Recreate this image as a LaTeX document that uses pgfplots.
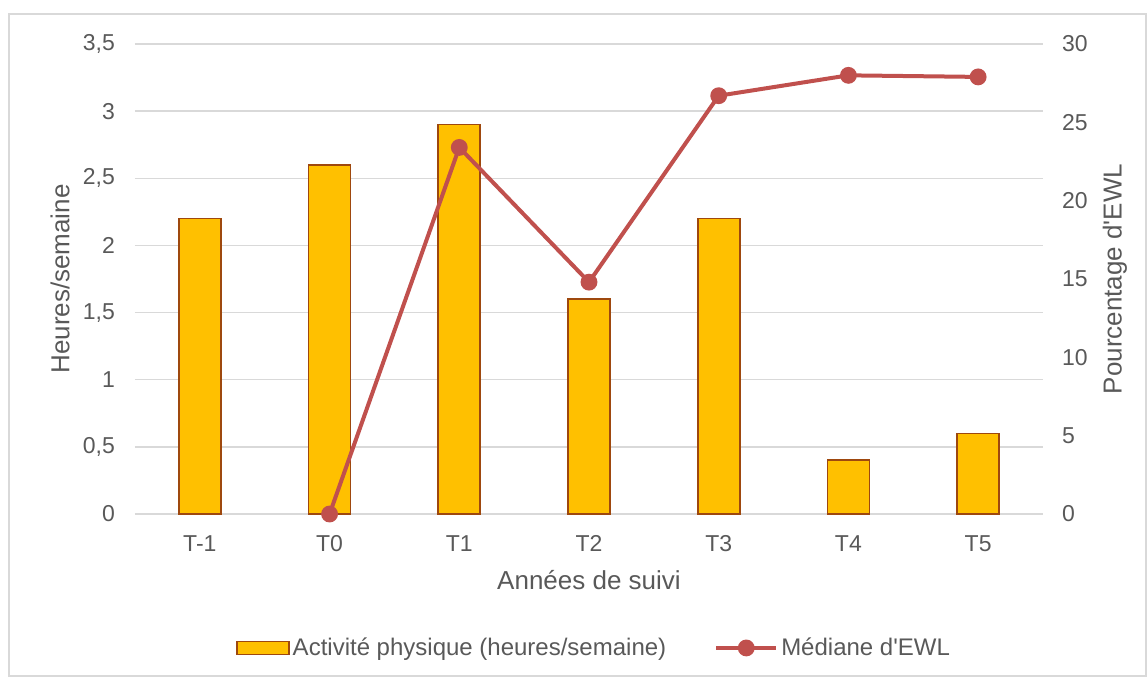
\documentclass[border=0pt]{standalone}
\usepackage{pgfplots}
\pgfplotsset{compat=1.18}
\usepackage{fontspec}
\setmainfont{Liberation Sans}
\definecolor{barfill}{HTML}{FFC000}
\definecolor{baredge}{HTML}{9E480E}
\definecolor{linecol}{HTML}{C0504D}
\definecolor{txt}{HTML}{595959}
\definecolor{gridc}{HTML}{D9D9D9}
\begin{document}
\begin{tikzpicture}[x=1pt,y=1pt]
\useasboundingbox (0,0) rectangle (573.5,338.5);
\draw[gridc, line width=0.75pt] (4.5,0.5) rectangle (573,331.5);
\begin{axis}[
  at={(67.5pt,81.5pt)}, anchor=south west, scale only axis,
  width=454pt, height=235pt,
  xmin=-0.5, xmax=6.5, ymin=0, ymax=3.5,
  xtick={0,1,2,3,4,5,6}, xticklabels={T-1,T0,T1,T2,T3,T4,T5},
  ytick={0,0.5,1,1.5,2,2.5,3,3.5},
  yticklabels={0,{0,5},1,{1,5},2,{2,5},3,{3,5}},
  major tick length=0pt,
  axis x line*=bottom, axis y line*=left,
  x axis line style={gridc, line width=0.75pt, -},
  y axis line style={draw=none},
  ymajorgrids, grid style={gridc, line width=0.75pt},
  ybar, bar width=21pt,
  tick label style={font=\fontsize{11.5}{13}\selectfont, text=txt},
  xticklabel style={anchor=base, yshift=-18.5pt},
  yticklabel style={xshift=-6.5pt},
  ylabel={Heures/semaine}, xlabel={Années de suivi},
  label style={font=\fontsize{13}{15}\selectfont, text=txt},
  ylabel style={at={(axis description cs:-0.0826,0.5)}, anchor=center},
  xlabel style={at={(axis description cs:0.5,-0.1404)}, anchor=center},
]
\addplot[fill=barfill, draw=baredge, line width=0.9pt] coordinates {
 (0,2.2) (1,2.6) (2,2.9) (3,1.6) (4,2.2) (5,0.4) (6,0.6)};
\end{axis}
\begin{axis}[
  at={(67.5pt,81.5pt)}, anchor=south west, scale only axis,
  width=454pt, height=235pt,
  xmin=-0.5, xmax=6.5, ymin=0, ymax=30,
  ytick={0,5,10,15,20,25,30},
  yticklabels={0,5,10,15,20,25,30},
  axis x line=none, axis y line*=right,
  y axis line style={draw=none},
  major tick length=0pt,
  clip=false,
  tick label style={font=\fontsize{11.5}{13}\selectfont, text=txt},
  yticklabel style={xshift=6pt},
  ylabel={Pourcentage d\textquotesingle EWL},
  label style={font=\fontsize{13}{15}\selectfont, text=txt},
  ylabel style={at={(axis description cs:1.0793,0.5)}, anchor=center},
  legend columns=2,
  legend style={at={(0.506,-0.285)}, anchor=center, draw=none, fill=none,
    font=\fontsize{12}{14}\selectfont, text=txt,
    /tikz/every even column/.append style={column sep=22.5pt},
    nodes={inner sep=1.5pt}},
]
\addlegendimage{legend image code/.code={\draw[fill=barfill, draw=baredge, line width=0.9pt] (0pt,-3.25pt) rectangle (26pt,3.25pt);}}
\addlegendentry{Activité physique (heures/semaine)}
\addplot[linecol, line width=2pt, mark=*, mark size=3.2pt, mark options={fill=linecol, draw=linecol},
  legend image code/.code={\draw[linecol, line width=2pt] (0pt,0pt) -- (30pt,0pt); \fill[linecol] (15pt,0pt) circle (3.2pt);}]
  coordinates {(1,0) (2,23.4) (3,14.8) (4,26.7) (5,28.0) (6,27.9)};
\addlegendentry{Médiane d\textquotesingle EWL}
\end{axis}
\end{tikzpicture}
\end{document}
